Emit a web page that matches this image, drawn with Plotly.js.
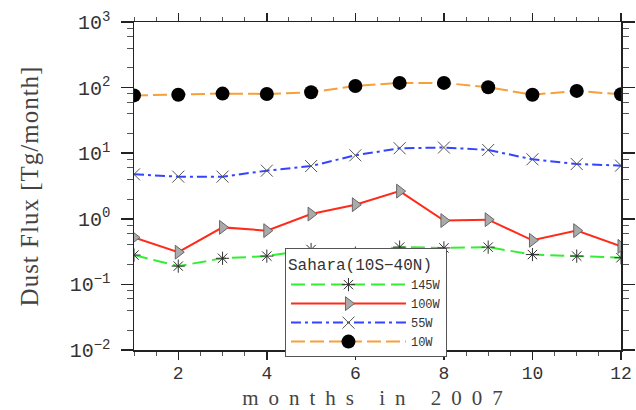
<!DOCTYPE html>
<html>
<head>
<meta charset="utf-8">
<script src="https://cdn.plot.ly/plotly-3.0.1.min.js"></script>
<style>
html, body { margin: 0; padding: 0; background: #fff; }
#chart { width: 636px; height: 410px; }
.xtitle { letter-spacing: 10px; }
.ytitle { letter-spacing: 1px; }
</style>
</head>
<body>
<div id="chart"></div>
<script>
// ---- data ----
const months = [1, 2, 3, 4, 5, 6, 7, 8, 9, 10, 11, 12];
const flux145W = [0.28, 0.19, 0.25, 0.27, 0.34, 0.30, 0.37, 0.36, 0.37, 0.285, 0.27, 0.255];
const flux100W = [0.52, 0.31, 0.74, 0.66, 1.18, 1.64, 2.64, 0.94, 0.97, 0.47, 0.66, 0.38];
const flux55W = [4.76, 4.39, 4.39, 5.42, 6.37, 9.29, 11.9, 12.2, 11.2, 8.07, 6.84, 6.46];
const flux10W = [76, 78, 81, 80, 85, 106, 118, 118, 101, 78, 89, 79];
const seriesNames = ['145W', '100W', '55W', '10W'];
const xTickVals = [2, 4, 6, 8, 10, 12];
const yTickVals = [0.01, 0.1, 1, 10, 100, 1000];
const yTickText = ['10<sup>\u22122</sup>', '10<sup>\u22121</sup>', '10<sup>0</sup>', '10<sup>1</sup>', '10<sup>2</sup>', '10<sup>3</sup>'];
const legendTitle = 'Sahara(10S\u221240N)';
const xTitle = 'months in 2007';
const yTitle = 'Dust Flux [Tg/month]';

const yMinorVals = [];
yTickVals.slice(0, -1).forEach(d => [2, 4, 6, 8].forEach(k => yMinorVals.push(d * k)));

const traces = [
  { x: months, y: flux145W, name: seriesNames[0], mode: 'lines+markers',
    line: { color: '#33ee33', width: 2, dash: '14px,6px' },
    marker: { symbol: 'asterisk-open', size: 11, color: '#333', line: { color: '#333', width: 1 } } },
  { x: months, y: flux100W, name: seriesNames[1], mode: 'lines+markers',
    line: { color: '#ff2a1a', width: 2 },
    marker: { symbol: 'triangle-right', size: 12, color: '#aaaaaa', line: { color: '#666', width: 1 } } },
  { x: months, y: flux55W, name: seriesNames[2], mode: 'lines+markers',
    line: { color: '#3344ff', width: 2, dash: '10px,4px,3px,4px' },
    marker: { symbol: 'x-thin-open', size: 12, color: '#555', line: { color: '#555', width: 1 } } },
  { x: months, y: flux10W, name: seriesNames[3], mode: 'lines+markers',
    line: { color: '#f7a03a', width: 2, dash: '14px,5px' },
    marker: { symbol: 'circle', size: 14, color: '#000' } }
];

const layout = {
  width: 636, height: 410,
  margin: { l: 134, r: 15, t: 22, b: 60 },
  paper_bgcolor: '#fff', plot_bgcolor: '#fff',
  showlegend: true,
  xaxis: {
    range: [1, 12], tickvals: xTickVals, ticks: 'outside', ticklen: 8, tickwidth: 1.5, tickcolor: '#222',
    showline: true, linecolor: '#222', linewidth: 1.5, mirror: 'allticks', showgrid: false, zeroline: false,
    minor: { tickmode: 'linear', tick0: 0, dtick: 0.5, ticks: 'outside', ticklen: 4, tickcolor: '#555', tickwidth: 1 },
    tickfont: { family: 'Liberation Mono', size: 18, color: '#333' },
    ticklabelstandoff: -2,
    title: { text: xTitle, font: { family: 'Liberation Serif', size: 21, color: '#444' }, standoff: 8 }
  },
  yaxis: {
    type: 'log', range: [-2, 3], tickmode: 'array', tickvals: yTickVals, ticktext: yTickText,
    ticks: 'outside', ticklen: 12, tickwidth: 1.5, tickcolor: '#222',
    showline: true, linecolor: '#222', linewidth: 1.5, mirror: 'allticks', showgrid: false, zeroline: false,
    minor: { tickmode: 'array', tickvals: yMinorVals, ticks: 'outside', ticklen: 6, tickcolor: '#555', tickwidth: 1 },
    tickfont: { family: 'Liberation Mono', size: 20, color: '#333' },
    ticklabelstandoff: 6,
    title: { text: yTitle, font: { family: 'Liberation Serif', size: 25, color: '#444' }, standoff: 24 }
  },
  legend: {
    x: 0.31, y: 0.31, xanchor: 'left', yanchor: 'top',
    bgcolor: '#fff', bordercolor: '#555', borderwidth: 1,
    title: { text: legendTitle, font: { family: 'Liberation Mono', size: 16, color: '#333' } },
    font: { family: 'Liberation Mono', size: 12, color: '#333' },
    tracegroupgap: 0, itemwidth: 115
  }
};

Plotly.newPlot('chart', traces, layout, { displayModeBar: false, staticPlot: true });
</script>
</body>
</html>
